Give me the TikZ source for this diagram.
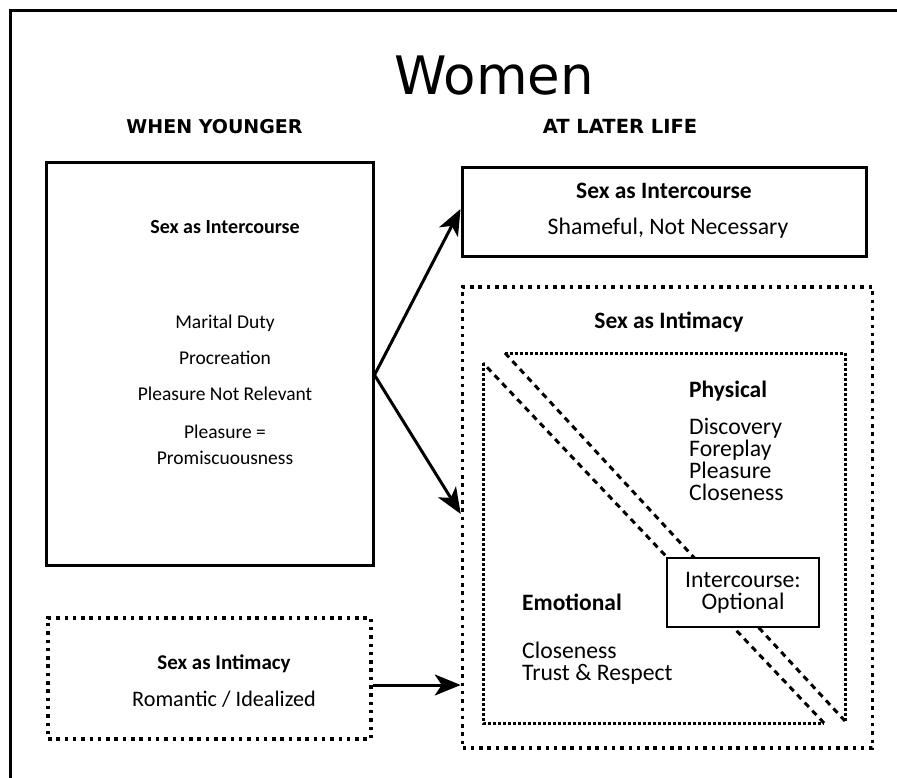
\documentclass[tikz,border=0pt]{standalone}
\usepackage{fontspec}
\setmainfont{Carlito}
\newfontfamily\titlefont{DejaVu Sans}
\usetikzlibrary{arrows.meta,calc}
\begin{document}
\begin{tikzpicture}[x=1pt,y=-1pt,
  solidbox/.style={draw,line width=3pt,inner sep=0pt},
  dotbox/.style={draw,line width=3.5pt,dash pattern=on 3.5pt off 4.8pt,inner sep=0pt},
  triedge/.style={line width=3pt,dash pattern=on 3pt off 2pt},
  diag/.style={line width=3pt,dash pattern=on 6pt off 5pt},
  stxt/.style={font=\fontsize{19.5}{26}\selectfont,anchor=base,inner sep=0pt,align=center},
  sbtxt/.style={font=\fontsize{20}{24}\selectfont\bfseries,anchor=base,inner sep=0pt},
  txt/.style={font=\fontsize{23.7}{26}\selectfont,anchor=base,inner sep=0pt,align=center},
  btxt/.style={font=\fontsize{23.5}{26}\selectfont\bfseries,anchor=base,inner sep=0pt},
  ltxt/.style={font=\fontsize{23.7}{21.7}\selectfont,anchor=base west,inner sep=0pt,align=left},
  lbtxt/.style={font=\fontsize{23.5}{26}\selectfont\bfseries,anchor=base west,inner sep=0pt},
  head/.style={font=\titlefont\bfseries\fontsize{19}{22}\selectfont,anchor=base,inner sep=0pt},
  arr/.style={line width=3pt,-{Stealth[length=26pt,width=21pt,inset=7pt]}}
]
\useasboundingbox (0,0) rectangle (897,778);
% outer frame (only top and left visible)
\draw[line width=3pt] (897,11) -- (10,11) -- (10,778);

\node[font=\titlefont\fontsize{53}{60}\selectfont,anchor=base,inner sep=0pt] (title) at (494,95) {Women};
\node[head] (hy) at (214.5,134) {WHEN YOUNGER};
\node[head,font=\titlefont\bfseries\fontsize{19.5}{22}\selectfont] (hl) at (620,134) {AT LATER LIFE};

% left boxes
\node[solidbox,minimum width=327pt,minimum height=402pt] (y1) at (209.5,364) {};
\node[sbtxt] (y1t) at (225,234) {Sex as Intercourse};
\node[stxt] (y1a) at (225,328) {Marital Duty};
\node[stxt] (y1b) at (225,364) {Procreation};
\node[stxt] (y1c) at (225,400) {Pleasure Not Relevant};
\node[stxt] (y1d) at (225,464) {Pleasure =\\Promiscuousness};

\node[dotbox,minimum width=323pt,minimum height=121pt] (y2) at (209.5,678.5) {};
\node[sbtxt,font=\fontsize{21}{24}\selectfont\bfseries] (y2t) at (224,669) {Sex as Intimacy};
\node[stxt,font=\fontsize{22.2}{26}\selectfont] (y2a) at (224,706) {Romantic / Idealized};

% right boxes
\node[solidbox,minimum width=404pt,minimum height=89pt] (l1) at (664,212.5) {};
\node[btxt] (l1t) at (664,199) {Sex as Intercourse};
\node[txt] (l1a) at (668,235) {Shameful, Not Necessary};

\node[dotbox,minimum width=410pt,minimum height=461pt] (l2) at (667.5,517.5) {};
\node[btxt] (l2t) at (669,328) {Sex as Intimacy};

% triangles
\draw[triedge] (845,721) -- (845,353) -- (505,353);
\draw[diag] (505,353) -- (845,721);
\draw[triedge] (483,363) -- (483,723) -- (824,723);
\draw[diag] (824,723) -- (483,363);

\node[lbtxt] (ph) at (689,397) {Physical};
\node[ltxt] (ph1) at (689,500) {Discovery\\Foreplay\\Pleasure\\Closeness};

\node[lbtxt] (em) at (522,610) {Emotional};
\node[ltxt] (em1) at (522,680) {Closeness\\Trust \& Respect};

\node[draw,fill=white,line width=1.3pt,minimum width=152pt,minimum height=69pt,inner sep=0pt] (opt) at (743,592.5) {};
\node[txt,font=\fontsize{23.7}{22}\selectfont] (opt1) at (743,609) {Intercourse:\\Optional};

% arrows
\coordinate (fork) at ($(y1.east)+(0,11)$);
\coordinate (t1) at ($(l1.west)+(0,-3.5)$);
\coordinate (t2) at ($(l2.west)+(0,-3.5)$);
\coordinate (s3) at ($(y2.east)+(0,6.5)$);
\draw[arr] (fork) -- (t1);
\draw[arr] (fork) -- (t2);
\draw[arr] (s3) -- (s3 -| l2.west);
\end{tikzpicture}
\end{document}
